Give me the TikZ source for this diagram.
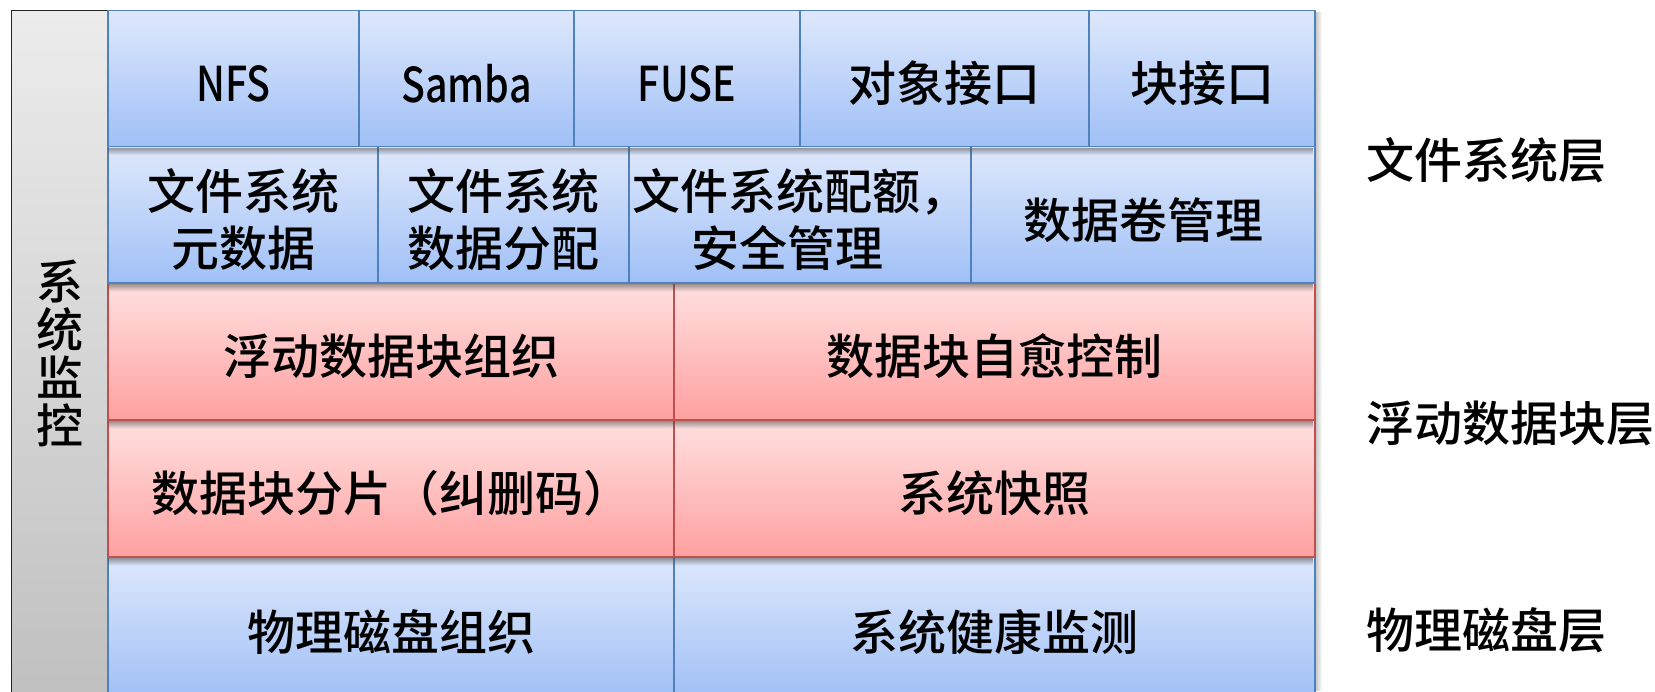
\documentclass[tikz,border=0pt]{standalone}
\usetikzlibrary{fadings}
\usepackage{fontspec}
\setmainfont{Noto Sans CJK SC}[UprightFont=* Medium]
\newfontfamily\latnarrow{Noto Sans CJK SC}[UprightFont=* Medium, FakeStretch=0.82]
\newcommand\bigfs{\fontsize{48}{57}\selectfont}
\newcommand\vfs{\fontsize{47}{48}\selectfont}
\definecolor{bluebd}{RGB}{79,129,189}
\definecolor{bluetop}{RGB}{222,232,252}
\definecolor{bluebot}{RGB}{160,192,246}
\definecolor{redbd}{RGB}{192,80,77}
\definecolor{redtop}{RGB}{255,224,224}
\definecolor{redbot}{RGB}{255,160,160}
\definecolor{graytop}{RGB}{236,236,236}
\definecolor{graybot}{RGB}{192,192,192}
\tikzfading[name=shadedown, top color=transparent!45, bottom color=transparent!100]
\tikzfading[name=shaderight, left color=transparent!70, right color=transparent!100]
\begin{document}
\begin{tikzpicture}[x=1pt,y=-1pt,
  bbox/.style={draw=bluebd, line width=1.5pt, top color=bluetop, bottom color=bluebot, inner sep=0pt},
  rbox/.style={draw=redbd, line width=1.5pt, top color=redtop, bottom color=redbot, inner sep=0pt},
  gbox/.style={draw=black!85, line width=1.8pt, top color=graytop, bottom color=graybot,
    inner sep=0pt, align=center, font=\vfs, text=black},
  txt/.style={inner sep=0pt, align=center, font=\bigfs, text=black, yshift=-5pt},
  lbl/.style={anchor=west, inner sep=0pt, font=\bigfs, text=black},
  shd/.style={fill=black!70, path fading=shadedown},
  shr/.style={fill=black!70, path fading=shaderight}]
\useasboundingbox (0,0) rectangle (1655,691);
\clip (0,0) rectangle (1655,691);
% system monitor
\node[gbox, minimum width=96.5pt, minimum height=686pt] (mon) at (59.75,353.5) {系\\统\\监\\控};
% bottom row
\node[bbox, minimum width=566pt, minimum height=140pt] (disk) at (391,627) {};
\node[bbox, minimum width=641pt, minimum height=140pt] (health) at (994.5,627) {};
% red rows
\node[rbox, minimum width=566pt, minimum height=137pt] (shard) at (391,488.5) {};
\node[rbox, minimum width=641pt, minimum height=137pt] (snap) at (994.5,488.5) {};
\node[rbox, minimum width=566pt, minimum height=137pt] (float) at (391,351.5) {};
\node[rbox, minimum width=641pt, minimum height=137pt] (heal) at (994.5,351.5) {};
% second row
\node[bbox, minimum width=270pt, minimum height=136.5pt] (meta) at (243,214.75) {};
\node[bbox, minimum width=251pt, minimum height=136.5pt] (alloc) at (503.5,214.75) {};
\node[bbox, minimum width=342pt, minimum height=136.5pt] (quota) at (800,214.75) {};
\node[bbox, minimum width=344pt, minimum height=136.5pt] (vol) at (1143,214.75) {};
% top row
\node[bbox, minimum width=251pt, minimum height=136pt] (nfs) at (233.5,78.5) {};
\node[bbox, minimum width=215pt, minimum height=136pt] (samba) at (466.5,78.5) {};
\node[bbox, minimum width=226pt, minimum height=136pt] (fuse) at (687,78.5) {};
\node[bbox, minimum width=289pt, minimum height=136pt] (obj) at (944.5,78.5) {};
\node[bbox, minimum width=226pt, minimum height=136pt] (blk) at (1202,78.5) {};
% soft shadows
\fill[shd] (109,147.5) rectangle (1315,155);
\fill[shd] (109,284) rectangle (1315,291.5);
\fill[shd] (109,421) rectangle (1315,428.5);
\fill[shd] (109,558) rectangle (1315,565.5);
\fill[shr] (1316,12) rectangle (1322,691);
% texts
\node[txt] (tdisk) at (disk.center) {物理磁盘组织};
\node[txt] (thealth) at (health.center) {系统健康监测};
\node[txt] (tshard) at (shard.center) {数据块分片（纠删码）};
\node[txt] (tsnap) at (snap.center) {系统快照};
\node[txt] (tfloat) at (float.center) {浮动数据块组织};
\node[txt] (theal) at (heal.center) {数据块自愈控制};
\node[txt] (tmeta) at (meta.center) {文件系统\\元数据};
\node[txt] (talloc) at (alloc.center) {文件系统\\数据分配};
\node[txt] (tquota) at (quota.center) {文件系统配额，\\安全管理\hspace*{26pt}};
\node[txt] (tvol) at (vol.center) {数据卷管理};
\node[txt, font=\bigfs\latnarrow] (tnfs) at (nfs.center) {NFS};
\node[txt, font=\bigfs\latnarrow] (tsamba) at (samba.center) {Samba};
\node[txt, font=\bigfs\latnarrow] (tfuse) at (fuse.center) {FUSE};
\node[txt] (tobj) at (obj.center) {对象接口};
\node[txt] (tblk) at (blk.center) {块接口};
% layer labels
\node[lbl] (l1) at (1366,160) {文件系统层};
\node[lbl] (l2) at (1366,423) {浮动数据块层};
\node[lbl] (l3) at (1366,630) {物理磁盘层};
\end{tikzpicture}
\end{document}
